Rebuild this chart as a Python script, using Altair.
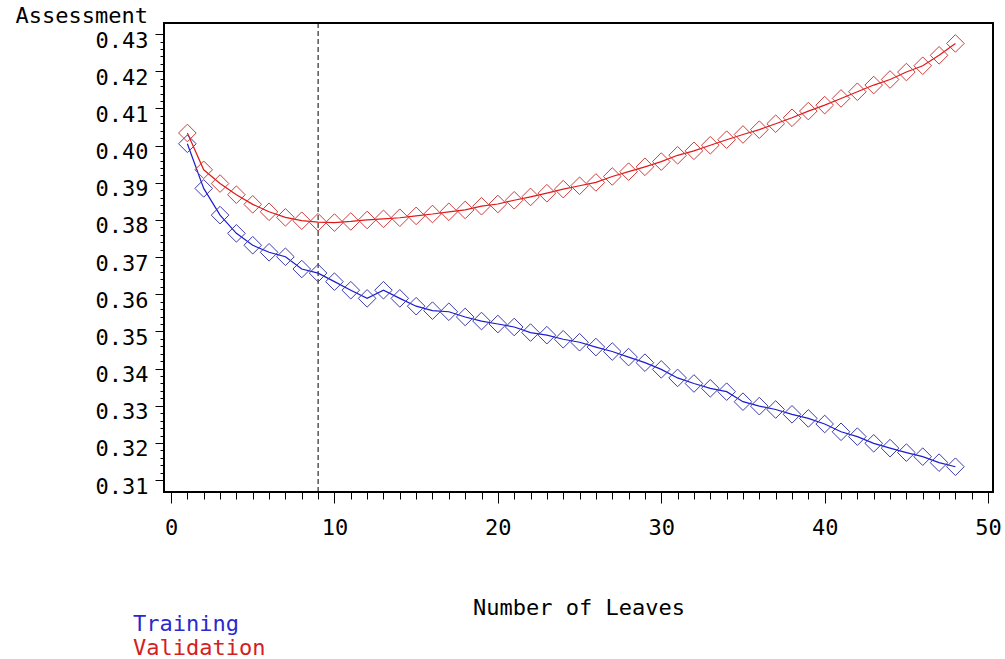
import altair as alt
import pandas as pd

# ---------------- data ----------------
leaves = list(range(1, 49))
training = [0.4005, 0.3885, 0.3813, 0.3764, 0.3732, 0.3713, 0.3701, 0.3668, 0.3657, 0.3634,
            0.3611, 0.3589, 0.3611, 0.3589, 0.3568, 0.3556, 0.3553, 0.3539, 0.3528, 0.3520,
            0.3512, 0.3497, 0.3490, 0.3479, 0.3471, 0.3458, 0.3446, 0.3431, 0.3416, 0.3398,
            0.3375, 0.3360, 0.3347, 0.3338, 0.3311, 0.3299, 0.3290, 0.3277, 0.3266, 0.3251,
            0.3230, 0.3217, 0.3199, 0.3186, 0.3174, 0.3163, 0.3147, 0.3136]
validation = [0.4034, 0.3935, 0.3898, 0.3868, 0.3842, 0.3822, 0.3807, 0.3798, 0.3794, 0.3793,
              0.3796, 0.3800, 0.3803, 0.3806, 0.3811, 0.3816, 0.3822, 0.3827, 0.3837, 0.3843,
              0.3853, 0.3862, 0.3872, 0.3883, 0.3892, 0.3901, 0.3917, 0.3930, 0.3943, 0.3957,
              0.3974, 0.3986, 0.4001, 0.4016, 0.4030, 0.4043, 0.4059, 0.4075, 0.4093, 0.4109,
              0.4127, 0.4145, 0.4163, 0.4178, 0.4198, 0.4215, 0.4243, 0.4275]
series_names = ["Training", "Validation"]
selected_leaves = [9]
x_ticks = list(range(0, 51))            # minor every 1, labelled every 10
y_ticks = [round(0.31 + 0.002 * i, 3) for i in range(61)]  # minor every 0.002, labelled every 0.01

# ---------------- styles ----------------
line_colors = ["#1c1cd0", "#e01818"]
marker_colors = ["#3c3cb0", "#d03c3c"]
text_colors = ["#2a2acc", "#d42020"]
FONT = "DejaVu Sans Mono"

rows = []
for name, vals in zip(series_names, [training, validation]):
    for l, v in zip(leaves, vals):
        rows.append({"leaves": l, "value": v, "series": name})
df = pd.DataFrame(rows)

xscale = alt.Scale(domain=[-0.43, 50.3], nice=False, zero=False)
yscale = alt.Scale(domain=[0.3068, 0.4330], nice=False, zero=False)

xaxis = alt.Axis(
    values=x_ticks, title="Number of Leaves", domain=False, grid=False,
    tickColor="black", tickWidth=1,
    tickSize={"condition": {"test": "datum.value % 10 === 0", "value": 11}, "value": 7},
    labelExpr="datum.value % 10 === 0 ? datum.label : ''",
    labelFont=FONT, labelFontSize=22, labelColor="black", labelPadding=14,
    labelOverlap=False, labelFlush=False,
    titleFont=FONT, titleFontSize=22, titleFontWeight="normal", titleColor="black",
    titleBaseline="alphabetic", titleY=122,
)
yaxis = alt.Axis(
    values=y_ticks, title="Assessment", domain=False, grid=False, format=".2f",
    tickColor="black", tickWidth=1,
    tickSize={"condition": {"test": "abs(datum.value * 100 - round(datum.value * 100)) < 0.01", "value": 9}, "value": 4},
    labelExpr="abs(datum.value * 100 - round(datum.value * 100)) < 0.01 ? datum.label : ''",
    labelFont=FONT, labelFontSize=22, labelColor="black", labelPadding=7,
    labelOverlap=False, labelFlush=False, labelBaseline="middle", labelOffset=6,
    titleFont=FONT, titleFontSize=22, titleFontWeight="normal", titleColor="black",
    titleAngle=0, titleAlign="left", titleBaseline="alphabetic", titleX=-149, titleY=-1,
)

base = alt.Chart(df).encode(
    x=alt.X("leaves:Q", scale=xscale, axis=xaxis),
    y=alt.Y("value:Q", scale=yscale, axis=yaxis),
)
lines = base.mark_line(strokeWidth=1.2).encode(
    color=alt.Color("series:N", scale=alt.Scale(domain=series_names, range=line_colors), legend=None)
)
points = base.mark_point(shape="diamond", size=310, filled=False, strokeWidth=1, opacity=1).encode(
    stroke=alt.Stroke("series:N", scale=alt.Scale(domain=series_names, range=marker_colors), legend=None)
)
rule = alt.Chart(pd.DataFrame({"leaves": selected_leaves})).mark_rule(
    color="black", strokeDash=[5, 3], strokeWidth=1
).encode(x=alt.X("leaves:Q", scale=xscale, axis=xaxis))

leg_train = alt.Chart(pd.DataFrame({"label": [series_names[0]]})).mark_text(
    font=FONT, fontSize=22, align="left", baseline="alphabetic", color=text_colors[0]
).encode(text="label:N", x=alt.value(-31), y=alt.value(608))
leg_valid = alt.Chart(pd.DataFrame({"label": [series_names[1]]})).mark_text(
    font=FONT, fontSize=22, align="left", baseline="alphabetic", color=text_colors[1]
).encode(text="label:N", x=alt.value(-31), y=alt.value(632))

chart = alt.layer(rule, lines, points, leg_train, leg_valid).properties(
    width=829, height=469,
    autosize=alt.AutoSizeParams(type="none"),
    padding={"left": 164, "top": 23, "right": 12, "bottom": 167},
    background="white",
).configure_view(stroke="black", strokeWidth=2)

chart.save("out.html", embed_options={"renderer": "svg", "actions": False})
